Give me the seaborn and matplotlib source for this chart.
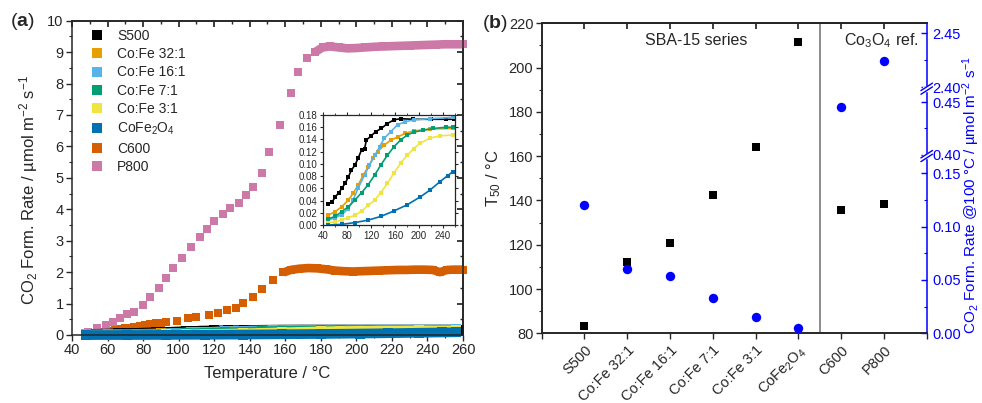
import numpy as np
import matplotlib
matplotlib.use("Agg")
import matplotlib.pyplot as plt
import seaborn as sns
from matplotlib.lines import Line2D
from matplotlib.ticker import MultipleLocator, FixedLocator

sns.set_theme(style="ticks")
plt.rcParams["font.family"] = ["Liberation Sans", "DejaVu Sans"]
plt.rcParams["mathtext.fontset"] = "custom"
plt.rcParams["mathtext.rm"] = "Liberation Sans"
plt.rcParams["mathtext.it"] = "Liberation Sans:italic"
plt.rcParams["mathtext.bf"] = "Liberation Sans:bold"
plt.rcParams["mathtext.default"] = "regular"

# ---- panel (a): CO2 formation rate vs temperature ----
p800_T = [49, 54, 59, 63, 67, 71, 75, 80, 84, 89, 93, 97, 102, 107, 112, 116, 120, 125, 129,
          134, 138, 142, 147, 151, 157, 163, 167, 172, 177, 181, 185, 190, 195, 200, 205, 210,
          215, 220, 225, 230, 235, 240, 245, 250, 255, 260]
p800_v = [0.10, 0.21, 0.32, 0.42, 0.53, 0.66, 0.74, 0.95, 1.22, 1.49, 1.80, 2.12, 2.44, 2.79,
          3.11, 3.37, 3.64, 3.85, 4.03, 4.21, 4.44, 4.72, 5.16, 5.83, 6.68, 7.69, 8.38, 8.80,
          9.01, 9.15, 9.18, 9.15, 9.12, 9.13, 9.15, 9.17, 9.18, 9.19, 9.20, 9.21, 9.22, 9.23,
          9.24, 9.25, 9.25, 9.25]

c600_T = [49, 53, 56, 59, 61, 64, 67, 70, 73, 75, 78, 81, 84, 87, 90, 93, 99, 105, 110, 117,
          122, 127, 132, 136, 142, 147, 153, 159, 163, 168, 173, 178, 183, 188, 193, 198, 203,
          208, 213, 218, 223, 228, 233, 238, 243, 247, 251, 255, 260]
c600_v = [0.02, 0.05, 0.08, 0.11, 0.13, 0.16, 0.18, 0.21, 0.23, 0.26, 0.29, 0.32, 0.35, 0.37,
          0.39, 0.41, 0.45, 0.53, 0.56, 0.64, 0.71, 0.80, 0.85, 1.03, 1.20, 1.45, 1.75, 1.99,
          2.07, 2.11, 2.13, 2.12, 2.09, 2.05, 2.03, 2.02, 2.03, 2.04, 2.05, 2.06, 2.07, 2.07,
          2.08, 2.08, 2.07, 2.00, 2.07, 2.08, 2.08]

s500_T = [48, 55, 60, 66, 71, 77, 82, 87, 93, 98, 104, 109, 112, 120, 128, 137, 147, 158, 169,
          190, 220, 245, 258]
s500_v = [0.035, 0.038, 0.046, 0.053, 0.060, 0.069, 0.079, 0.090, 0.098, 0.109, 0.123, 0.125,
          0.139, 0.146, 0.153, 0.158, 0.166, 0.172, 0.174, 0.173, 0.173, 0.173, 0.173]

cf32_T = [48, 60, 71, 82, 90, 98, 107, 115, 123, 131, 142, 153, 164, 177, 191, 218, 256]
cf32_v = [0.016, 0.022, 0.030, 0.041, 0.052, 0.065, 0.082, 0.095, 0.109, 0.120, 0.131, 0.139,
          0.144, 0.150, 0.154, 0.157, 0.158]

cf16_T = [48, 60, 71, 82, 90, 98, 109, 117, 126, 134, 142, 153, 164, 177, 191, 218, 256]
cf16_v = [0.008, 0.012, 0.017, 0.027, 0.041, 0.060, 0.082, 0.098, 0.114, 0.128, 0.142, 0.153,
          0.164, 0.169, 0.172, 0.174, 0.176]

cf7_T = [48, 60, 71, 82, 93, 104, 115, 126, 136, 147, 158, 169, 180, 191, 207, 224, 245, 256]
cf7_v = [0.010, 0.014, 0.022, 0.030, 0.041, 0.053, 0.066, 0.082, 0.098, 0.114, 0.128, 0.139,
         0.147, 0.152, 0.155, 0.158, 0.160, 0.160]

cf3_T = [48, 60, 71, 82, 93, 104, 115, 126, 136, 147, 158, 169, 180, 191, 202, 218, 235, 256]
cf3_v = [0.004, 0.005, 0.008, 0.012, 0.016, 0.023, 0.032, 0.041, 0.053, 0.068, 0.085, 0.101,
         0.114, 0.125, 0.134, 0.142, 0.146, 0.147]

cfo_T = [48, 71, 93, 115, 136, 158, 180, 202, 218, 235, 248, 256]
cfo_v = [0.000, 0.001, 0.004, 0.008, 0.014, 0.023, 0.033, 0.046, 0.057, 0.071, 0.081, 0.087]

legend_names = ["S500", "Co:Fe 32:1", "Co:Fe 16:1", "Co:Fe 7:1", "Co:Fe 3:1",
                "CoFe$_2$O$_4$", "C600", "P800"]
colors = ["#000000", "#E69F00", "#56B4E9", "#009E73", "#F0E442", "#0072B2", "#D55E00", "#CC79A7"]

# ---- panel (b): T50 and rate at 100 C ----
samples = ["S500", "Co:Fe 32:1", "Co:Fe 16:1", "Co:Fe 7:1", "Co:Fe 3:1",
           "CoFe$_2$O$_4$", "C600", "P800"]
t50 = [83.3, 112.1, 120.7, 142.4, 164.2, 211.5, 135.5, 138.6]
rate100 = [0.120, 0.060, 0.054, 0.033, 0.015, 0.005, 0.445, 2.424]

small = [(s500_T, s500_v), (cf32_T, cf32_v), (cf16_T, cf16_v), (cf7_T, cf7_v),
         (cf3_T, cf3_v), (cfo_T, cfo_v)]

W, H = 982, 403
fig = plt.figure(figsize=(W / 100, H / 100), dpi=100)
axa = fig.add_axes([72 / W, 1 - 335 / H, 391 / W, 314.3 / H])
axb = fig.add_axes([541.7 / W, 1 - 333.3 / H, 385 / W, 310 / H])
axi = fig.add_axes([323.3 / W, 1 - 225 / H, 131.7 / W, 110 / H])

# main panel: low-rate samples form a thick band near zero
for (T, v), c in zip(small, colors[:6]):
    sns.lineplot(x=T, y=v, ax=axa, color=c, lw=7, marker="s", ms=6.5, mew=0,
                 solid_capstyle="butt", clip_on=False, legend=False)

# C600 / P800: squares, dense plateau drawn as a continuous band
for T, v, c, t0 in [(c600_T, c600_v, colors[6], 158), (p800_T, p800_v, colors[7], 176)]:
    T = np.asarray(T)
    v = np.asarray(v)
    dense = T >= t0
    sns.lineplot(x=T[dense], y=v[dense], ax=axa, color=c, lw=6.2, solid_capstyle="butt",
                 clip_on=False, legend=False)
    sns.scatterplot(x=T, y=v, ax=axa, color=c, marker="s", s=40, linewidth=0,
                    clip_on=False, legend=False)

axa.set_xlim(40, 260)
axa.set_ylim(0, 10)
axa.xaxis.set_major_locator(MultipleLocator(20))
axa.xaxis.set_minor_locator(MultipleLocator(10))
axa.yaxis.set_major_locator(MultipleLocator(1))
axa.yaxis.set_minor_locator(MultipleLocator(0.5))
axa.tick_params(which="major", direction="out", length=4, width=1, labelsize=10.5, pad=2)
axa.tick_params(which="minor", direction="out", length=2.5, width=0.8)
for sp in axa.spines.values():
    sp.set_linewidth(1.1)
sx = axa.secondary_xaxis("top")
sx.xaxis.set_major_locator(MultipleLocator(20))
sx.xaxis.set_minor_locator(MultipleLocator(10))
sx.tick_params(which="both", direction="in", labeltop=False)
sx.tick_params(which="major", length=4)
sx.tick_params(which="minor", length=2.5)
sy = axa.secondary_yaxis("right")
sy.yaxis.set_major_locator(MultipleLocator(1))
sy.yaxis.set_minor_locator(MultipleLocator(0.5))
sy.tick_params(which="both", direction="in", labelright=False)
sy.tick_params(which="major", length=4)
sy.tick_params(which="minor", length=2.5)
axa.set_xlabel("Temperature / °C", fontsize=12, labelpad=6)
axa.set_ylabel("CO$_2$ Form. Rate / µmol m$^{-2}$ s$^{-1}$", fontsize=12)
axa.yaxis.set_label_coords(-0.082, 0.46)

handles = [Line2D([], [], ls="", marker="s", ms=6.5, mew=0, color=c) for c in colors]
axa.legend(handles, legend_names, loc="upper left", bbox_to_anchor=(0.045, 0.975),
           frameon=False, fontsize=10, handlelength=1.0, handletextpad=1.0,
           labelspacing=0.32, borderpad=0, borderaxespad=0)

# inset
for (T, v), c in zip(small, colors[:6]):
    sns.lineplot(x=T, y=v, ax=axi, color=c, lw=1.2, marker="s", ms=2.6, mew=0,
                 legend=False)
axi.set_xlim(40, 260)
axi.set_ylim(0, 0.18)
axi.set_xticks([40, 80, 120, 160, 200, 240])
axi.xaxis.set_minor_locator(MultipleLocator(20))
axi.yaxis.set_major_locator(MultipleLocator(0.02))
axi.yaxis.set_major_formatter(matplotlib.ticker.FormatStrFormatter("%.2f"))
axi.tick_params(which="major", direction="out", length=2.5, width=0.8, labelsize=7, pad=1.5)
axi.tick_params(which="minor", direction="out", length=1.5, width=0.6)
axi.tick_params(axis="both", which="both", top=True, right=True)
for sp in axi.spines.values():
    sp.set_linewidth(0.9)
axi.set_xlabel("")
axi.set_ylabel("")

# panel b
pos = np.arange(len(samples))
axb.axvline(5.5, color="#8c8c8c", lw=1.4, zorder=1)
sns.scatterplot(x=pos, y=t50, ax=axb, color="black", marker="s", s=40, linewidth=0,
                legend=False, zorder=3)
axb.set_xlim(-1, 8)
axb.set_ylim(80, 220)
axb.set_xticks(np.arange(-1, 9))
axb.set_xticklabels([""] + samples + [""], rotation=45, ha="right",
                    rotation_mode="anchor", fontsize=10)
axb.yaxis.set_major_locator(MultipleLocator(20))
axb.yaxis.set_minor_locator(MultipleLocator(10))
axb.tick_params(which="major", direction="out", length=4, width=1, labelsize=10.5, pad=2)
axb.tick_params(axis="x", pad=3)
axb.tick_params(which="minor", direction="out", length=2.5, width=0.8)
axb.spines["right"].set_visible(False)
for sp in axb.spines.values():
    sp.set_linewidth(1.1)
tx = axb.secondary_xaxis("top")
tx.set_xticks(pos)
tx.tick_params(direction="in", length=4, labeltop=False)
axb.set_ylabel("T$_{50}$ / °C", fontsize=12)
axb.yaxis.set_label_coords(-0.1, 0.5)
axb.text(2.6, 0.945, "SBA-15 series", transform=axb.get_xaxis_transform(),
         ha="center", va="center", fontsize=11.5)
axb.text(6.95, 0.945, "Co$_3$O$_4$ ref.", transform=axb.get_xaxis_transform(),
         ha="center", va="center", fontsize=11.5)

# broken right axis
V_BRK = np.array([0.0, 0.166, 0.40, 0.463, 2.40, 2.46])
P_BRK = np.array([0.0, 177.0, 178.5, 244.5, 246.0, 310.8])


def pw(x, xs, ys):
    x = np.asarray(x, float)
    y = np.interp(x, xs, ys)
    y = np.where(x < xs[0], ys[0] + (x - xs[0]) * (ys[1] - ys[0]) / (xs[1] - xs[0]), y)
    y = np.where(x > xs[-1], ys[-1] + (x - xs[-1]) * (ys[-1] - ys[-2]) / (xs[-1] - xs[-2]), y)
    return y


blue = "#0000FF"
ax2 = axb.twinx()
ax2.set_yscale("function", functions=(lambda v: pw(v, V_BRK, P_BRK),
                                      lambda p: pw(p, P_BRK, V_BRK)))
sns.scatterplot(x=pos, y=rate100, ax=ax2, color=blue, marker="o", s=46, linewidth=0,
                legend=False, zorder=4)
ax2.set_ylim(0, 2.459)
ax2.yaxis.set_major_locator(FixedLocator([0.0, 0.05, 0.10, 0.15, 0.40, 0.45, 2.40, 2.45]))
ax2.yaxis.set_minor_locator(FixedLocator([0.025, 0.075, 0.125, 0.425, 2.425]))
ax2.yaxis.set_major_formatter(matplotlib.ticker.FormatStrFormatter("%.2f"))
ax2.tick_params(axis="y", which="major", direction="in", length=4, width=1, colors=blue,
                labelsize=10.5, pad=4)
ax2.tick_params(axis="y", which="minor", direction="in", length=2.5, width=0.8, colors=blue)
ax2.spines["right"].set_color(blue)
ax2.spines["right"].set_linewidth(1.1)
ax2.set_ylabel("CO$_2$ Form. Rate @100 °C / µmol m$^{-2}$ s$^{-1}$", fontsize=11, color=blue)
ax2.yaxis.set_label_coords(1.088, 0.446)

for f in (177.7 / 310.8, 245.2 / 310.8):
    ax2.add_patch(plt.Rectangle((0.99, f - 0.006), 0.02, 0.012, transform=ax2.transAxes,
                                color="white", clip_on=False, zorder=5))
    for d in (-0.006, 0.006):
        ax2.plot([0.985, 1.015], [f + d - 0.012, f + d + 0.012], transform=ax2.transAxes,
                 color=blue, lw=1.0, clip_on=False, zorder=6)

fig.text(10 / W, 1 - 22 / H, r"($\bf{a}$)", fontsize=14, va="center")
fig.text(482 / W, 1 - 24 / H, r"($\bf{b}$)", fontsize=14, va="center")

fig.savefig("out.png", dpi=100)
